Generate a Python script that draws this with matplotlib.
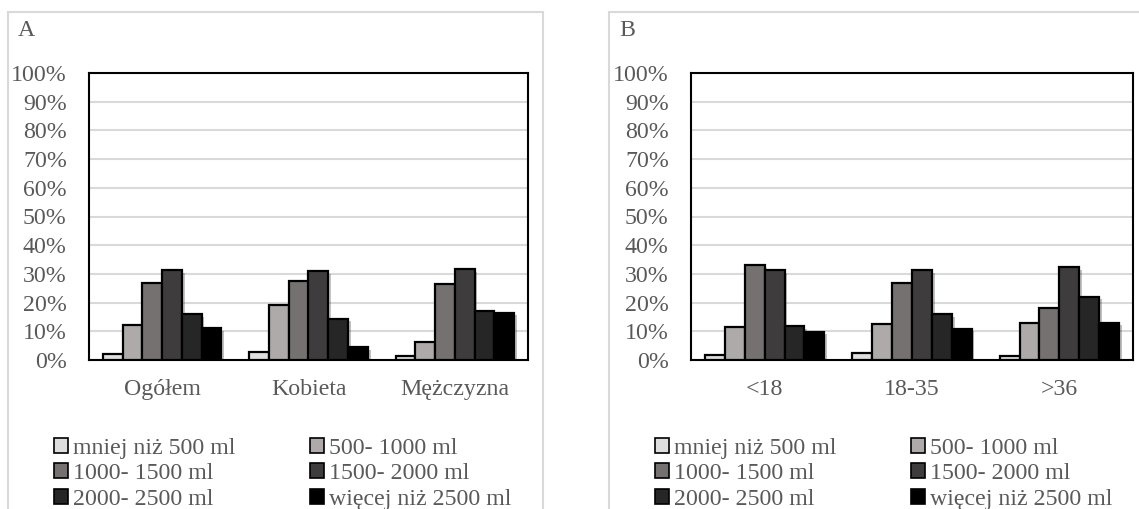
import numpy as np
import matplotlib
matplotlib.use('Agg')
import matplotlib.pyplot as plt
from matplotlib.patches import Rectangle, Patch
from matplotlib.ticker import PercentFormatter
import matplotlib.patheffects as pe

plt.rcParams['font.family'] = ['Liberation Serif', 'DejaVu Serif']

# data (percent of respondents)
series = ['mniej niż 500 ml', '500- 1000 ml', '1000- 1500 ml',
          '1500- 2000 ml', '2000- 2500 ml', 'więcej niż 2500 ml']
colors = ['#dedede', '#aeaaaa', '#767171', '#3e3c3c', '#262626', '#000000']

cats_a = ['Ogółem', 'Kobieta', 'Mężczyzna']
vals_a = [[2.1, 2.8, 1.5],
          [12.2, 19.2, 6.4],
          [26.8, 27.4, 26.4],
          [31.4, 31.1, 31.6],
          [15.9, 14.4, 17.2],
          [11.0, 4.6, 16.5]]

cats_b = ['<18', '18-35', '>36']
vals_b = [[1.7, 2.5, 1.3],
          [11.5, 12.4, 12.9],
          [33.1, 26.9, 18.1],
          [31.4, 31.2, 32.4],
          [11.7, 15.9, 22.1],
          [9.9, 10.9, 13.0]]

W, H = 1139, 509
fig = plt.figure(figsize=(W/100, H/100), dpi=100)
txt = '#595959'
fs = 17.2

def px(x0, y0, w, h):
    # pixel box (top-left origin) -> figure fraction
    return [x0/W, 1-(y0+h)/H, w/W, h/H]

def panel(x0, x1, letter, cats, vals, ax_left, ax_w):
    fig.patches.append(Rectangle((x0/W, -0.1), (x1-x0)/W, 1-12/H+0.1,
                                 transform=fig.transFigure, fill=False,
                                 edgecolor='#d9d9d9', linewidth=1.5))
    fig.text((x0+10)/W, 1-31/H, letter, fontsize=fs, color=txt, va='center')
    ax = fig.add_axes(px(ax_left, 73, ax_w, 287))
    x = np.arange(len(cats))
    bw = 0.135
    for j, v in enumerate(vals):
        ax.bar(x + (j-2.5)*bw, np.array(v)/100, bw, color=colors[j],
               edgecolor='black', linewidth=1.6, zorder=3,
               path_effects=[pe.SimplePatchShadow(offset=(2, -2), alpha=0.25),
                             pe.Normal()])
    ax.set_xlim(-0.5, 2.5)
    ax.set_ylim(0, 1)
    ax.set_yticks(np.arange(0, 1.01, 0.1))
    ax.yaxis.set_major_formatter(PercentFormatter(1.0, decimals=0))
    ax.set_xticks(x)
    ax.set_xticklabels(cats)
    ax.tick_params(length=0, labelsize=fs, colors=txt)
    ax.tick_params(axis='y', pad=16)
    ax.tick_params(axis='x', pad=14)
    ax.grid(axis='y', color='#d9d9d9', linewidth=1.5, zorder=0)
    ax.set_axisbelow(True)
    for s in ax.spines.values():
        s.set_linewidth(1.5)
        s.set_color('black')
    order = [0, 2, 4, 1, 3, 5]
    handles = [Patch(facecolor=colors[i], edgecolor='black', linewidth=1.2,
                     label=series[i]) for i in order]
    ax.legend(handles=handles, ncol=2, loc='upper left',
              bbox_to_anchor=((x0+46)/W, 1-438/H), bbox_transform=fig.transFigure,
              frameon=False, fontsize=fs, labelcolor=txt,
              handlelength=0.6, handleheight=0.6, handletextpad=0.2,
              columnspacing=3.1, labelspacing=0.18, borderpad=0, borderaxespad=0)
    return ax

panel(8, 543, 'A', cats_a, vals_a, 89, 439)
panel(609, 1160, 'B', cats_b, vals_b, 691, 442)

fig.savefig('out.png', dpi=100)
